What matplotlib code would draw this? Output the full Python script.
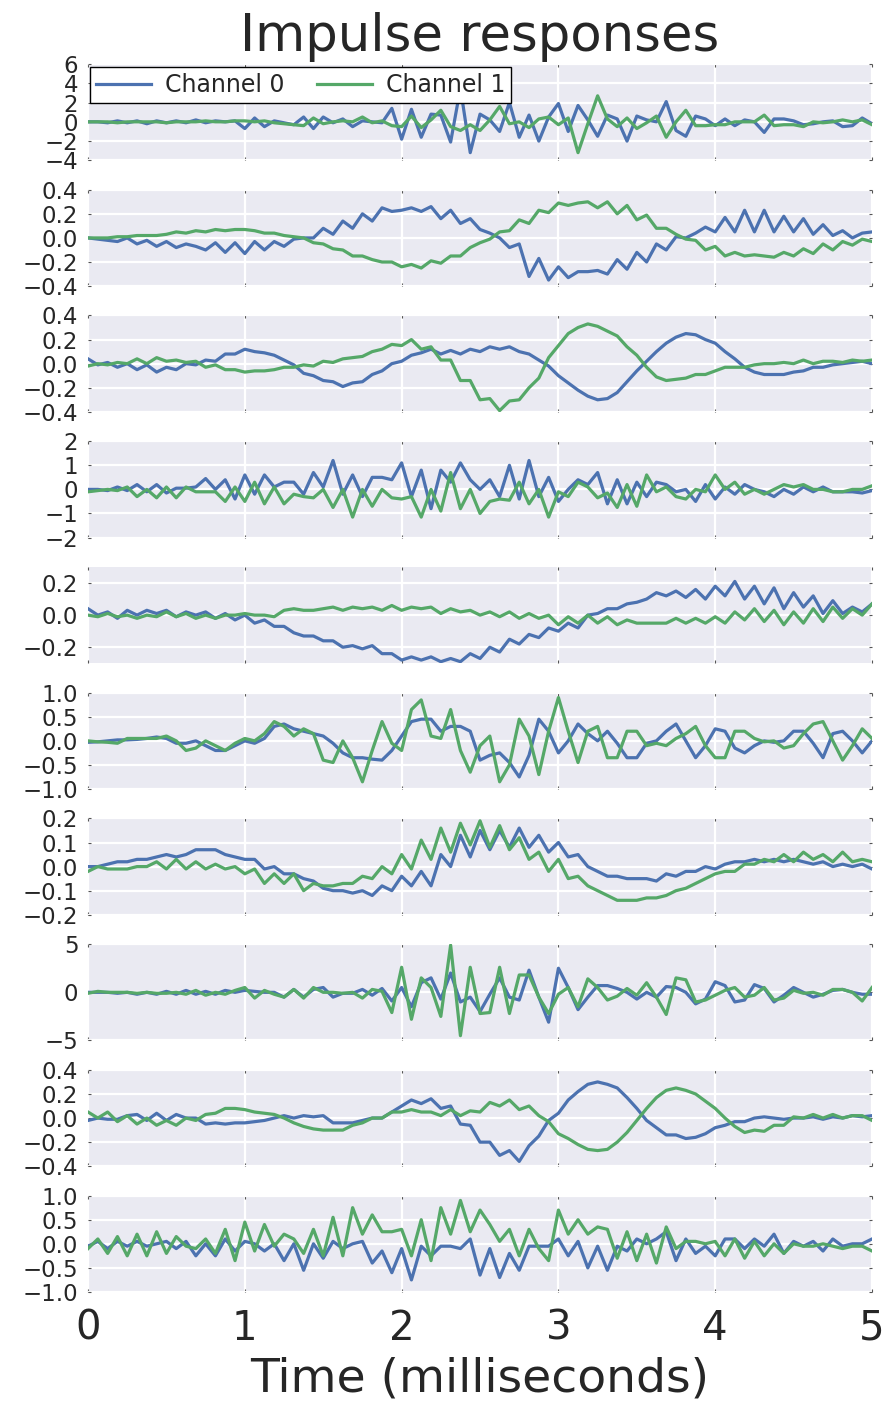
import numpy as np
import matplotlib
matplotlib.use("Agg")
from matplotlib import pyplot as plt

# 81 samples at 16 kHz -> 0 .. 5 ms
n_samples = 81
sample_rate_khz = 16.0
t = np.arange(n_samples) / sample_rate_khz

# Channel 0 (blue), one list per response
ch0_1 = [0, 0, -0.1, 0.1, -0.1, 0.1, -0.2, 0.1, -0.1, 0.1, -0.1, 0.2, -0.1, 0.1, 0, 0.1,
         -0.7, 0.4, -0.5, 0.1, -0.1, -0.3, 0.5, -0.7, 0.5, -0.1, 0.3, -0.5, 0.1, 0.0, -0.1,
         1.4, -1.8, 1.3, -1.6, 0.8, 0.7, -2.1, 3.5, -3.2, 0.8, 0.2, -1.0, 2.0, -1.6, 0.7, -2.0, 0.5, 1.9, -1.0, 1.7,
         0.2, -1.5, 0.7, 0.3, -2.0, 0.6, 0.2, 0.0, 2.1, -0.9, -1.5, 0.6, 0.3, -0.4, 0.3,
         -0.4, 0.2, 0.0, -1.1, 0.3, 0.3, 0.1, -0.3, -0.2, 0.0, 0.1, -0.5, -0.4, 0.4, -0.2]
ch0_2 = [0.0, -0.01, -0.02, -0.03, 0.0, -0.05, -0.02, -0.07, -0.03, -0.08, -0.05, -0.07, -0.1, -0.04, -0.12, -0.04, -0.13, -0.03, -0.1, -0.03, -0.07,
         -0.01, 0.0, 0.0, 0.08, 0.03, 0.14, 0.08, 0.2, 0.14, 0.25, 0.22, 0.23, 0.25, 0.22, 0.26, 0.16, 0.23, 0.12, 0.16, 0.07,
         0.04, 0.0, -0.08, -0.05, -0.32, -0.17, -0.35, -0.24, -0.33, -0.28, -0.28, -0.27, -0.3, -0.18, -0.26, -0.12, -0.2, -0.05, -0.1, 0.01,
         0.0, 0.04, 0.09, 0.05, 0.17, 0.05, 0.23, 0.05, 0.23, 0.05, 0.18, 0.05, 0.16, 0.03, 0.11, 0.02, 0.06, 0.0, 0.04, 0.05]
ch0_3 = [0.04, -0.01, 0.01, -0.03, 0.0, -0.05, -0.01, -0.07, -0.03, -0.05, 0.0, -0.01, 0.03, 0.02, 0.08, 0.08, 0.12, 0.1, 0.09, 0.07, 0.03,
         -0.01, -0.08, -0.1, -0.14, -0.15, -0.19, -0.16, -0.15, -0.09, -0.06, 0.0, 0.02, 0.07, 0.09, 0.12, 0.08, 0.11, 0.08, 0.12, 0.1,
         0.14, 0.12, 0.14, 0.1, 0.08, 0.03, -0.02, -0.1, -0.16, -0.22, -0.27, -0.3, -0.29, -0.24, -0.15, -0.06, 0.02, 0.1, 0.17, 0.22,
         0.25, 0.24, 0.2, 0.17, 0.1, 0.04, -0.03, -0.07, -0.09, -0.09, -0.09, -0.07, -0.06, -0.03, -0.03, -0.01, 0.0, 0.01, 0.02, 0.0]
ch0_4 = [0.0, 0.0, -0.05, 0.1, -0.05, 0.2, -0.1, 0.2, -0.15, 0.05, 0.05, 0.1, 0.45, 0.0, 0.4, -0.4, 0.6, -0.2, 0.6, 0.1, 0.3,
         0.3, -0.2, 0.7, 0.1, 1.2, -0.2, 0.6, -0.3, 0.5, 0.5, 0.4, 1.1, -0.3, 0.8, -0.8, 0.8, 0.3, 1.1, 0.4, 0.0,
         0.4, -0.3, 1.0, -0.4, 1.2, -0.3, 0.5, -0.5, 0.0, 0.4, 0.2, 0.7, -0.6, 0.4, -0.6, 0.3, -0.3, 0.3, 0.2, -0.1,
         0.0, -0.5, 0.2, -0.4, 0.1, -0.2, 0.2, 0.0, -0.1, -0.3, 0.0, -0.2, 0.1, -0.1, 0.1, -0.1, -0.1, -0.1, -0.15, -0.05]
ch0_5 = [0.04, 0.0, 0.02, -0.02, 0.03, 0.0, 0.03, 0.01, 0.03, -0.01, 0.02, 0.0, 0.02, -0.02, 0.01, -0.03, 0.0, -0.05, -0.03, -0.07, -0.07,
         -0.11, -0.13, -0.13, -0.16, -0.16, -0.2, -0.19, -0.21, -0.19, -0.24, -0.24, -0.28, -0.26, -0.28, -0.26, -0.29, -0.27, -0.29, -0.24, -0.27,
         -0.2, -0.23, -0.15, -0.18, -0.12, -0.14, -0.08, -0.1, -0.05, -0.08, 0.0, 0.01, 0.04, 0.04, 0.07, 0.08, 0.1, 0.14, 0.12, 0.15,
         0.11, 0.16, 0.1, 0.18, 0.12, 0.21, 0.1, 0.18, 0.07, 0.17, 0.04, 0.14, 0.05, 0.12, 0.01, 0.09, 0.01, 0.05, 0.02, 0.07]
ch0_6 = [-0.03, -0.02, 0.0, 0.02, 0.02, 0.03, 0.05, 0.08, 0.05, -0.05, -0.05, 0.0, -0.1, -0.2, -0.2, -0.1, 0.0, -0.05, 0.05,
         0.3, 0.35, 0.25, 0.2, 0.15, 0.1, -0.05, -0.25, -0.35, -0.35, -0.38, -0.4, -0.2, 0.1, 0.4, 0.45, 0.45, 0.2, 0.3, 0.3, 0.2, -0.4,
         -0.3, -0.25, -0.45, -0.75, -0.3, 0.45, 0.2, -0.25, 0.0, 0.35, 0.15, 0.0, 0.2, -0.05, -0.35, -0.35, -0.05, 0.0, 0.2, 0.35,
         0.0, -0.35, -0.1, 0.25, 0.2, -0.15, -0.25, -0.1, 0.0, -0.03, 0.0, 0.2, 0.2, -0.05, -0.35, 0.15, 0.2, 0.0, -0.25, 0.0]
ch0_7 = [0.0, 0.0, 0.01, 0.02, 0.02, 0.03, 0.03, 0.04, 0.05, 0.04, 0.05, 0.07, 0.07, 0.07, 0.05, 0.04, 0.03, 0.03, -0.01, 0.0, -0.03,
         -0.03, -0.05, -0.06, -0.09, -0.1, -0.1, -0.11, -0.1, -0.12, -0.08, -0.1, -0.04, -0.08, -0.02, -0.08, 0.05, 0.0, 0.13, 0.04, 0.15,
         0.07, 0.15, 0.08, 0.16, 0.08, 0.13, 0.06, 0.1, 0.04, 0.05, 0.0, -0.02, -0.04, -0.04, -0.05, -0.05, -0.05, -0.06, -0.03, -0.04,
         -0.02, -0.02, 0.0, -0.01, 0.01, 0.02, 0.02, 0.03, 0.02, 0.03, 0.02, 0.03, 0.02, 0.01, 0.02, 0.0, 0.01, 0.0, 0.01, -0.01]
ch0_8 = [0, 0, 0, -0.1, 0, -0.2, 0, -0.2, 0.1, -0.2, 0.2, -0.2, 0.1, -0.2, 0.2, 0, 0.2, 0.1, 0, 0, -0.5, 0.3, -0.5, 0.3, 0.5, -0.5, -0.1, -0.1, 0.3, -0.3, 0.4,
         -0.9, 0.5, -1.5, 1.0, 1.5, -0.7, 2.0, -1.0, -0.5, -2.0, -0.2, 1.5, -0.5, -0.8, 2.3, -0.5, -3.1, 2.5, 0.5, -1.8,
         -0.5, 0.7, 0.7, 0.4, 0.0, -0.7, 0.0, -0.5, 0.6, 0.5, 0.0, -1.2, -0.7, 1.1, 0.7, -1.0, -0.8, 0.8, 0.4, -1.0,
         -0.3, 0.5, 0.0, -0.5, -0.2, 0.2, 0.3, 0.0, -0.2, -0.2]
ch0_9 = [-0.02, 0.0, -0.01, -0.01, 0.02, 0.03, -0.02, 0.04, -0.02, 0.03, 0.0, 0.0, -0.05, -0.04, -0.05, -0.04, -0.04, -0.03, -0.02, 0.0, 0.02,
         0.0, 0.02, 0.01, 0.02, -0.04, -0.04, -0.04, -0.02, 0.0, 0.0, 0.05, 0.1, 0.15, 0.12, 0.16, 0.08, 0.1, -0.05, -0.06, -0.2,
         -0.2, -0.31, -0.27, -0.36, -0.23, -0.15, -0.02, 0.04, 0.15, 0.22, 0.28, 0.3, 0.28, 0.25, 0.17, 0.08, -0.02, -0.08, -0.14, -0.14,
         -0.17, -0.16, -0.13, -0.08, -0.06, -0.03, -0.03, 0.0, 0.01, 0.0, -0.01, 0.0, 0.0, 0.01, -0.01, 0.01, 0.0, 0.02, 0.01, 0.02]
ch0_10 = [-0.05, 0.05, -0.1, 0.05, -0.05, 0.05, -0.05, 0.0, 0.05, -0.1, 0.05, -0.25, 0.0, -0.25, 0.1, -0.15, 0.05, 0.0, -0.15, 0.0, -0.35,
          0.0, -0.55, 0.0, -0.3, 0.05, -0.1, 0.0, 0.05, -0.4, -0.15, -0.6, -0.1, -0.75, -0.05, -0.25, -0.05, -0.05, -0.1, 0.1, -0.65,
          -0.1, -0.7, -0.2, -0.55, -0.05, -0.05, -0.05, 0.1, -0.25, 0.05, -0.5, -0.05, -0.55, -0.05, -0.15, 0.1, 0.0, 0.1, 0.25, -0.35,
          0.1, -0.2, -0.05, -0.25, 0.1, 0.1, -0.1, 0.1, -0.05, 0.2, -0.2, 0.05, -0.05, 0.05, -0.15, 0.1, -0.05, 0.0, 0.0, 0.1]

# Channel 1 (green)
ch1_1 = [0, 0, 0, -0.1, 0, 0, 0, 0, -0.1, 0, 0, 0, 0.1, 0, 0, 0.1, 0.1, 0, 0.1, -0.1, -0.2,
         -0.3, -0.4, 0.4, -0.2, 0.0, 0.1, 0.0, 0.5, -0.1, 0.1, -0.4, -0.5, 0.6, -0.6, 0.2, 1.2, -0.5, -0.9, -0.3, -0.9,
         0.2, 1.6, -0.2, 0.0, -0.6, 0.3, 0.5, -0.3, 0.4, -3.2, -0.2, 2.7, 0.3, -0.5, 0.4, -0.7, -0.1, 0.6, -1.6, 0.0,
         1.2, -0.4, -0.4, -0.3, -0.3, 0.0, 0.0, 0.0, 0.7, -0.4, -0.3, -0.3, -0.5, 0.0, -0.1, 0.0, 0.2, 0.0, 0.2, -0.3]
ch1_2 = [0.0, 0.0, 0.0, 0.01, 0.01, 0.02, 0.02, 0.02, 0.03, 0.05, 0.04, 0.06, 0.05, 0.07, 0.06, 0.07, 0.07, 0.06, 0.04, 0.04, 0.02,
         0.01, 0.0, -0.04, -0.05, -0.09, -0.1, -0.15, -0.15, -0.18, -0.2, -0.2, -0.24, -0.22, -0.25, -0.19, -0.21, -0.15, -0.15, -0.08, -0.04,
         -0.01, 0.05, 0.06, 0.15, 0.12, 0.23, 0.21, 0.29, 0.27, 0.29, 0.3, 0.25, 0.3, 0.2, 0.27, 0.15, 0.19, 0.08, 0.08, 0.03,
         -0.01, -0.02, -0.1, -0.07, -0.15, -0.12, -0.15, -0.14, -0.15, -0.16, -0.12, -0.15, -0.09, -0.13, -0.05, -0.1, -0.03, -0.06, -0.01, -0.03]
ch1_3 = [-0.02, 0.0, -0.01, 0.01, 0.0, 0.04, 0.0, 0.05, 0.02, 0.03, 0.01, 0.02, -0.03, -0.01, -0.05, -0.05, -0.07, -0.06, -0.06, -0.05, -0.03,
         -0.03, -0.01, -0.02, 0.02, 0.01, 0.04, 0.05, 0.06, 0.1, 0.12, 0.16, 0.15, 0.2, 0.12, 0.14, 0.03, 0.03, -0.14, -0.14, -0.3,
         -0.29, -0.39, -0.31, -0.3, -0.2, -0.12, 0.05, 0.15, 0.25, 0.3, 0.33, 0.31, 0.27, 0.23, 0.14, 0.07, -0.03, -0.11, -0.14, -0.13,
         -0.12, -0.09, -0.09, -0.06, -0.03, -0.03, -0.03, -0.01, 0.0, 0.0, 0.01, 0.0, 0.03, 0.0, 0.02, 0.02, 0.01, 0.03, 0.02, 0.03]
ch1_4 = [-0.1, -0.05, 0.0, -0.05, 0.1, -0.3, 0.0, -0.35, 0.1, -0.35, 0.1, -0.1, -0.1, -0.1, -0.5, 0.1, -0.5, 0.3, -0.6, 0.1, -0.6,
         -0.2, -0.3, -0.35, 0.0, -0.75, 0.0, -1.15, 0.0, -0.7, 0.0, -0.35, -0.4, -0.3, -1.15, 0.0, -0.9, 0.7, -0.8, 0.0, -1.0,
         -0.5, -0.4, -0.45, 0.3, -0.6, 0.0, -1.15, -0.1, -0.3, 0.3, 0.1, -0.35, -0.15, -0.75, 0.2, -0.7, 0.6, -0.1, 0.1, -0.3,
         -0.4, 0.0, -0.1, 0.6, 0.0, 0.3, -0.2, 0.0, -0.2, 0.0, 0.2, 0.1, 0.2, 0.0, 0.0, -0.1, -0.1, 0.0, 0.0, 0.15]
ch1_5 = [0.0, -0.01, 0.01, -0.01, 0.0, -0.02, 0.0, -0.01, 0.02, -0.01, 0.01, -0.02, 0.0, -0.02, 0.0, 0.0, 0.01, 0.0, 0.0, -0.01, 0.03,
         0.04, 0.03, 0.03, 0.04, 0.05, 0.03, 0.05, 0.04, 0.05, 0.03, 0.06, 0.03, 0.05, 0.04, 0.05, 0.01, 0.04, 0.02, 0.03, 0.0,
         0.02, -0.01, 0.02, -0.02, 0.01, -0.02, 0.0, -0.06, -0.01, -0.05, 0.0, -0.05, -0.01, -0.06, -0.03, -0.05, -0.05, -0.05, -0.05, -0.02,
         -0.05, -0.02, -0.05, -0.01, -0.05, 0.02, -0.03, 0.04, -0.04, 0.03, -0.06, 0.02, -0.05, 0.04, -0.04, 0.05, -0.02, 0.04, 0.0, 0.07]
ch1_6 = [0.0, -0.02, -0.03, -0.05, 0.05, 0.05, 0.05, 0.05, 0.1, 0.0, -0.2, -0.15, 0.0, -0.1, -0.2, -0.05, 0.05, 0.0, 0.15, 0.4, 0.3,
         0.1, 0.25, 0.15, -0.4, -0.45, 0.0, -0.35, -0.85, -0.2, 0.4, -0.05, -0.2, 0.65, 0.85, 0.1, 0.05, 0.65, -0.2, -0.65, -0.1,
         0.1, -0.85, -0.5, 0.45, 0.1, -0.7, 0.2, 0.9, 0.2, -0.45, 0.2, 0.3, -0.35, -0.35, 0.2, 0.2, -0.1, -0.05, -0.1, 0.05,
         0.15, 0.3, -0.1, -0.35, -0.35, 0.2, 0.2, 0.05, -0.02, 0.0, -0.15, -0.1, 0.15, 0.35, 0.4, 0.0, -0.4, -0.1, 0.25, 0.05]
ch1_7 = [-0.02, 0.0, -0.01, -0.01, -0.01, 0.0, 0.0, 0.02, -0.01, 0.03, -0.01, 0.02, -0.01, 0.01, -0.01, 0.0, -0.03, -0.01, -0.07, -0.03, -0.07,
         -0.03, -0.1, -0.07, -0.08, -0.08, -0.07, -0.07, -0.04, -0.05, 0.0, -0.03, 0.05, -0.01, 0.11, 0.03, 0.16, 0.06, 0.18, 0.09, 0.19,
         0.08, 0.17, 0.07, 0.12, 0.03, 0.06, -0.02, 0.03, -0.05, -0.04, -0.08, -0.1, -0.12, -0.14, -0.14, -0.14, -0.13, -0.13, -0.12, -0.1,
         -0.09, -0.07, -0.05, -0.03, -0.02, -0.02, 0.01, 0.01, 0.03, 0.02, 0.05, 0.02, 0.06, 0.03, 0.05, 0.02, 0.06, 0.02, 0.03, 0.02]
ch1_8 = [-0.1, 0.1, 0, 0, 0, -0.1, 0, -0.1, -0.1, 0, -0.2, 0.2, -0.3, 0, -0.2, 0.2, 0.5, -0.6, 0.2, -0.2, -0.5, 0.3, -0.6, 0.5, 0, 0, -0.1, 0, -0.6, 0.3, 0.1,
         -2.1, 2.6, -2.8, 1.5, 0.5, -2.5, 4.9, -4.5, 2.6, -2.2, -2.1, 2.6, -2.2, 1.8, 1.8, -0.5, -2.2, -0.2, 0.5, -1.5,
         1.4, 0.5, -0.8, -0.4, 0.4, -0.3, 1.0, -0.5, -2.3, 1.5, 1.3, -1.0, -0.8, -0.3, 0.2, 0.5, -0.5, -0.3, 0.5, -0.8,
         -0.6, 0.2, -0.1, 0.0, -0.3, 0.3, 0.3, 0.0, -0.9, 0.5]
ch1_9 = [0.05, 0.0, 0.05, -0.03, 0.02, -0.05, 0.0, -0.06, -0.02, -0.06, 0.0, -0.02, 0.03, 0.04, 0.08, 0.08, 0.07, 0.05, 0.04, 0.03, 0.0,
         -0.04, -0.07, -0.09, -0.1, -0.1, -0.1, -0.06, -0.04, 0.0, 0.0, 0.05, 0.05, 0.07, 0.05, 0.05, 0.02, 0.07, 0.02, 0.06, 0.05,
         0.13, 0.1, 0.15, 0.07, 0.1, 0.02, -0.03, -0.13, -0.17, -0.22, -0.26, -0.27, -0.26, -0.2, -0.12, -0.02, 0.08, 0.17, 0.23, 0.25,
         0.23, 0.2, 0.14, 0.08, 0.0, -0.07, -0.12, -0.1, -0.11, -0.06, -0.06, 0.01, 0.0, 0.03, 0.0, 0.03, 0.0, 0.02, 0.02, -0.02]
ch1_10 = [-0.1, 0.1, -0.2, 0.15, -0.25, 0.2, -0.25, 0.25, -0.2, 0.15, -0.05, -0.1, 0.1, -0.2, 0.3, -0.35, 0.45, -0.15, 0.4, -0.05, 0.2,
          0.1, -0.2, 0.3, -0.25, 0.55, -0.25, 0.75, 0.2, 0.6, 0.25, 0.25, 0.3, -0.25, 0.5, -0.35, 0.75, 0.2, 0.9, 0.25, 0.7,
          0.4, 0.05, 0.3, -0.25, 0.3, -0.1, -0.35, 0.7, 0.2, 0.5, 0.2, 0.35, 0.3, -0.3, 0.25, -0.35, 0.2, -0.4, 0.35, -0.1,
          0.05, 0.05, 0.0, 0.05, -0.25, 0.1, -0.3, 0.05, -0.25, 0.0, -0.2, 0.0, -0.05, -0.05, 0.0, -0.05, -0.1, -0.05, -0.05, -0.15]

channel0 = [ch0_1, ch0_2, ch0_3, ch0_4, ch0_5, ch0_6, ch0_7, ch0_8, ch0_9, ch0_10]
channel1 = [ch1_1, ch1_2, ch1_3, ch1_4, ch1_5, ch1_6, ch1_7, ch1_8, ch1_9, ch1_10]

y_limits = [(-4, 6), (-0.4, 0.4), (-0.4, 0.4), (-2, 2), (-0.3, 0.3),
            (-1, 1), (-0.2, 0.2), (-5, 5), (-0.4, 0.4), (-1, 1)]
y_ticks = [[-4, -2, 0, 2, 4, 6],
           [-0.4, -0.2, 0.0, 0.2, 0.4],
           [-0.4, -0.2, 0.0, 0.2, 0.4],
           [-2, -1, 0, 1, 2],
           [-0.2, 0.0, 0.2],
           [-1.0, -0.5, 0.0, 0.5, 1.0],
           [-0.2, -0.1, 0.0, 0.1, 0.2],
           [-5, 0, 5],
           [-0.4, -0.2, 0.0, 0.2, 0.4],
           [-1.0, -0.5, 0.0, 0.5, 1.0]]

for i, (a, b) in enumerate(zip(channel0, channel1)):
    assert len(a) == n_samples, ("ch0", i + 1, len(a))
    assert len(b) == n_samples, ("ch1", i + 1, len(b))

blue = "#4C72B0"
green = "#55A868"
text_col = "#262626"

plt.rcParams["font.family"] = "DejaVu Sans"
plt.rcParams["text.color"] = text_col
plt.rcParams["axes.labelcolor"] = text_col
plt.rcParams["xtick.color"] = text_col
plt.rcParams["ytick.color"] = text_col

fig = plt.figure(figsize=(8.92, 14.04), dpi=100)
gs = fig.add_gridspec(10, 1, left=0.0987, right=0.9776, top=0.9544, bottom=0.0798, hspace=0.305)

axes = []
for i in range(10):
    ax = fig.add_subplot(gs[i, 0], sharex=axes[0] if axes else None)
    axes.append(ax)
    ax.set_facecolor("#EAEAF2")
    for s in ax.spines.values():
        s.set_visible(False)
    ax.grid(True, color="white", linewidth=1.6)
    ax.set_axisbelow(True)

    ax.plot(t, channel0[i], color=blue, lw=2.3, label="Channel 0")
    ax.plot(t, channel1[i], color=green, lw=2.3, label="Channel 1")

    ax.set_xlim(0, 5)
    ax.set_ylim(*y_limits[i])
    ax.set_yticks(y_ticks[i])
    ax.set_xticks([0, 1, 2, 3, 4, 5])
    ax.tick_params(axis="y", labelsize=16.5, pad=7, direction="in", length=2,
                   right=True, color="#555555")
    ax.tick_params(axis="x", direction="in", length=2, top=True, color="#555555")
    if i < 9:
        ax.tick_params(axis="x", labelbottom=False)

    if i == 0:
        leg = ax.legend(loc="upper left", bbox_to_anchor=(0.0, 0.995), ncol=2,
                        fontsize=17, frameon=True, fancybox=False, framealpha=1,
                        edgecolor="black", borderaxespad=0.1, borderpad=0.25,
                        handlelength=2.3, handletextpad=0.6, columnspacing=1.4)
        leg.get_frame().set_linewidth(1.0)

axes[-1].tick_params(axis="x", labelsize=29, pad=12)
axes[-1].set_xlabel("Time (milliseconds)", fontsize=34, labelpad=6)

# title centred over the axes column, not the whole figure
fig.text(0.538, 0.9735, "Impulse responses", fontsize=37, ha="center", va="center")

fig.savefig("out.png", dpi=100)
